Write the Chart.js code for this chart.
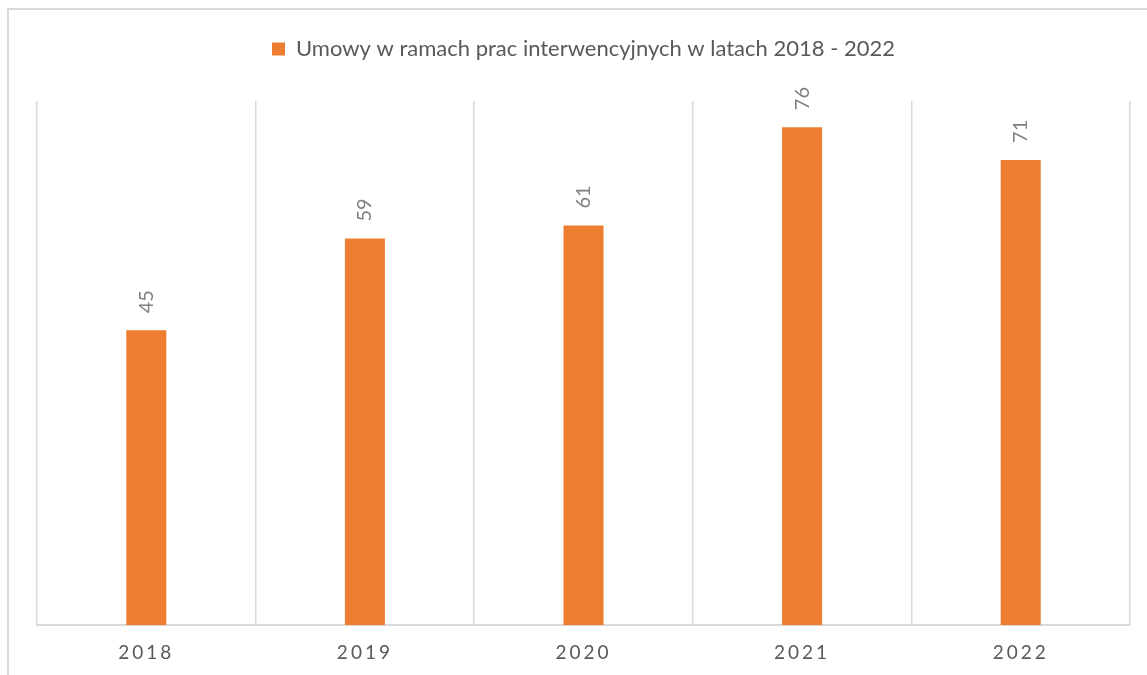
<!DOCTYPE html>
<html>
<head>
<meta charset="utf-8">
<script src="https://cdn.jsdelivr.net/npm/chart.js@4/dist/chart.umd.min.js"></script>
<style>
  html, body { margin: 0; padding: 0; background: #fff; overflow: hidden; }
  #frame {
    position: absolute; left: 7px; top: 8px;
    width: 1200px; height: 700px;
    border: 2px solid #d9d9d9;
  }
  #wrap { position: absolute; left: 0; top: 0; width: 1147px; height: 675px; }
</style>
</head>
<body>
<div id="frame"></div>
<div id="wrap"><canvas id="chart"></canvas></div>
<script>
const years = ["2018", "2019", "2020", "2021", "2022"];
const contracts = [45, 59, 61, 76, 71];
const seriesLabel = "Umowy w ramach prac interwencyjnych w latach 2018 - 2022";

// legend needs extra room below it
const legendSpace = {
    id: "legendSpace",
    beforeInit(chart) {
        const fit = chart.legend.fit;
        chart.legend.fit = function () {
            fit.bind(chart.legend)();
            this.height += 31;
        };
    }
};

// rotated value labels above bars, then letter spacing for the x ticks
const barLabels = {
    id: "barLabels",
    afterDatasetsDraw(chart) {
        const ctx = chart.ctx;
        const meta = chart.getDatasetMeta(0);
        ctx.save();
        ctx.font = "20px Lato";
        ctx.fillStyle = "#7f7f7f";
        ctx.textAlign = "left";
        ctx.textBaseline = "middle";
        meta.data.forEach((bar, i) => {
            ctx.save();
            ctx.translate(bar.x, bar.y - 17);
            ctx.rotate(-Math.PI / 2);
            ctx.fillText(contracts[i], 0, 0);
            ctx.restore();
        });
        ctx.restore();
        ctx.letterSpacing = "3px";
    },
    afterDraw(chart) {
        chart.ctx.letterSpacing = "0px";
    }
};

const ctx = document.getElementById("chart").getContext("2d");

new Chart(ctx, {
    type: "bar",
    data: {
        labels: years,
        datasets: [{
            label: seriesLabel,
            data: contracts,
            backgroundColor: "#ed7d31",
            borderWidth: 0,
            categoryPercentage: 1,
            barPercentage: 0.183
        }]
    },
    options: {
        responsive: true,
        maintainAspectRatio: false,
        animation: false,
        layout: {
            padding: { top: 28, left: 37, right: 17, bottom: -5 }
        },
        plugins: {
            legend: {
                position: "top",
                labels: {
                    boxWidth: 13,
                    boxHeight: 13,
                    padding: 10,
                    color: "#595959",
                    font: { family: "Lato", size: 22 }
                }
            },
            tooltip: { enabled: false }
        },
        scales: {
            x: {
                grid: {
                    color: "#d9d9d9",
                    lineWidth: 1.5,
                    drawTicks: false,
                    tickLength: 0,
                    offset: true
                },
                border: { color: "#d9d9d9", width: 2 },
                ticks: {
                    z: 1,
                    color: "#595959",
                    padding: 16,
                    font: { family: "Lato", size: 19 }
                }
            },
            y: {
                display: false,
                min: 0,
                max: 80
            }
        }
    },
    plugins: [legendSpace, barLabels]
});
</script>
</body>
</html>
